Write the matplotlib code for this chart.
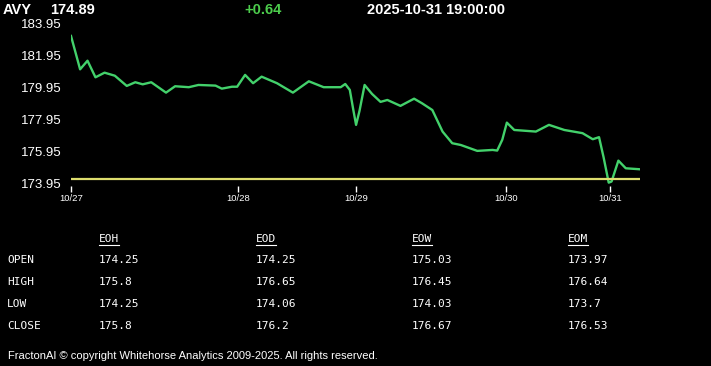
import matplotlib
matplotlib.use("Agg")
import matplotlib.pyplot as plt
from matplotlib.lines import Line2D

# session position (0 = 10/27 open, 100 = last bar) and price
pos = [0.0, 1.6, 2.9, 4.3, 5.9, 7.7, 9.8, 11.3, 12.6, 14.1, 16.7, 18.3, 20.7,
       22.4, 25.4, 26.5, 28.3, 29.2, 30.6, 32.0, 33.5, 36.2, 39.0, 41.8, 44.4,
       47.4, 48.2, 49.0, 49.6, 50.1, 50.7, 51.6, 52.9, 54.4, 55.6, 57.9, 60.3,
       61.7, 63.5, 65.3, 67.0, 68.5, 71.4, 74.1, 74.9, 75.8, 76.6, 77.9, 81.7,
       84.0, 86.7, 89.9, 91.7, 92.8, 93.6, 94.5, 95.0, 96.2, 97.5, 99.9]
price = [183.20, 181.11, 181.65, 180.61, 180.90, 180.71, 180.07, 180.30, 180.17,
         180.30, 179.65, 180.05, 179.99, 180.13, 180.09, 179.90, 180.02, 180.02,
         180.76, 180.24, 180.65, 180.24, 179.65, 180.36, 179.99, 179.99, 180.19,
         179.82, 178.60, 177.63, 178.50, 180.13, 179.57, 179.07, 179.19, 178.82,
         179.27, 178.98, 178.56, 177.21, 176.48, 176.37, 176.00, 176.06, 176.02,
         176.70, 177.77, 177.31, 177.21, 177.63, 177.31, 177.11, 176.73, 176.86,
         175.60, 174.01, 174.08, 175.39, 174.91, 174.85]
ref_level = 174.25

yticks = [173.95, 175.95, 177.95, 179.95, 181.95, 183.95]
day_pos = [0.0, 29.3, 50.1, 76.4, 94.7]
day_labels = ["10/27", "10/28", "10/29", "10/30", "10/31"]

symbol = "AVY"
last = "174.89"
change = "+0.64"
stamp = "2025-10-31 19:00:00"

col_names = ["EOH", "EOD", "EOW", "EOM"]
row_names = ["OPEN", "HIGH", "LOW", "CLOSE"]
table_vals = [
    ["174.25", "174.25", "175.03", "173.97"],
    ["175.8", "176.65", "176.45", "176.64"],
    ["174.25", "174.06", "174.03", "173.7"],
    ["175.8", "176.2", "176.67", "176.53"],
]

W, H = 711, 366
fig = plt.figure(figsize=(W / 100, H / 100), dpi=100, facecolor="black")
ax = fig.add_axes([71 / W, 1 - 186 / H, 569 / W, 166 / H])
ax.set_facecolor("black")

ax.plot(pos, price, color="#43d16b", lw=1.7, solid_joinstyle="round")
ax.plot([pos[0], pos[-1]], [ref_level, ref_level], color="#dede6e", lw=1.6)

ax.set_xlim(0, 100)
ax.set_ylim(173.8, 184.2)
ax.set_yticks(yticks)
ax.set_yticklabels([f"{v:.2f}" for v in yticks])
ax.set_xticks(day_pos)
ax.set_xticklabels(day_labels)
for s in ax.spines.values():
    s.set_visible(False)
ax.tick_params(axis="y", length=0, pad=7, labelcolor="white", labelsize=9.5)
ax.tick_params(axis="x", length=4, width=1, color="white", pad=2,
               labelcolor="white", labelsize=6.8)
for lab in ax.get_yticklabels() + ax.get_xticklabels():
    lab.set_family("Liberation Sans")

def fx(px):
    return px / W

def fy(py):
    return 1 - py / H

hdr = dict(color="white", fontsize=10.5, fontweight="bold", family="Liberation Sans",
           va="baseline")
fig.text(fx(3), fy(14), symbol, **hdr)
fig.text(fx(50), fy(14), last, **hdr)
fig.text(fx(244), fy(14), change, **{**hdr, "color": "#4ccc4c"})
fig.text(fx(367), fy(14), stamp, **hdr)

mono = dict(color="white", fontsize=8, family="DejaVu Sans Mono", va="baseline")
col_x = [99, 256, 412, 568]
for x, name in zip(col_x, col_names):
    fig.text(fx(x), fy(242), name, **mono)
    fig.add_artist(Line2D([fx(x), fx(x + 20)], [fy(245), fy(245)], color="white", lw=0.8))
row_y = [263, 285, 307, 329]
for y, rname, vals in zip(row_y, row_names, table_vals):
    fig.text(fx(7), fy(y), rname, **mono)
    for x, v in zip(col_x, vals):
        fig.text(fx(x), fy(y), v, **mono)

fig.text(fx(8), fy(359), "FractonAI \u00a9 copyright Whitehorse Analytics 2009-2025. All rights reserved.",
         color="white", fontsize=8.0, family="Liberation Sans", va="baseline")

fig.savefig("out.png", dpi=100, facecolor="black")
